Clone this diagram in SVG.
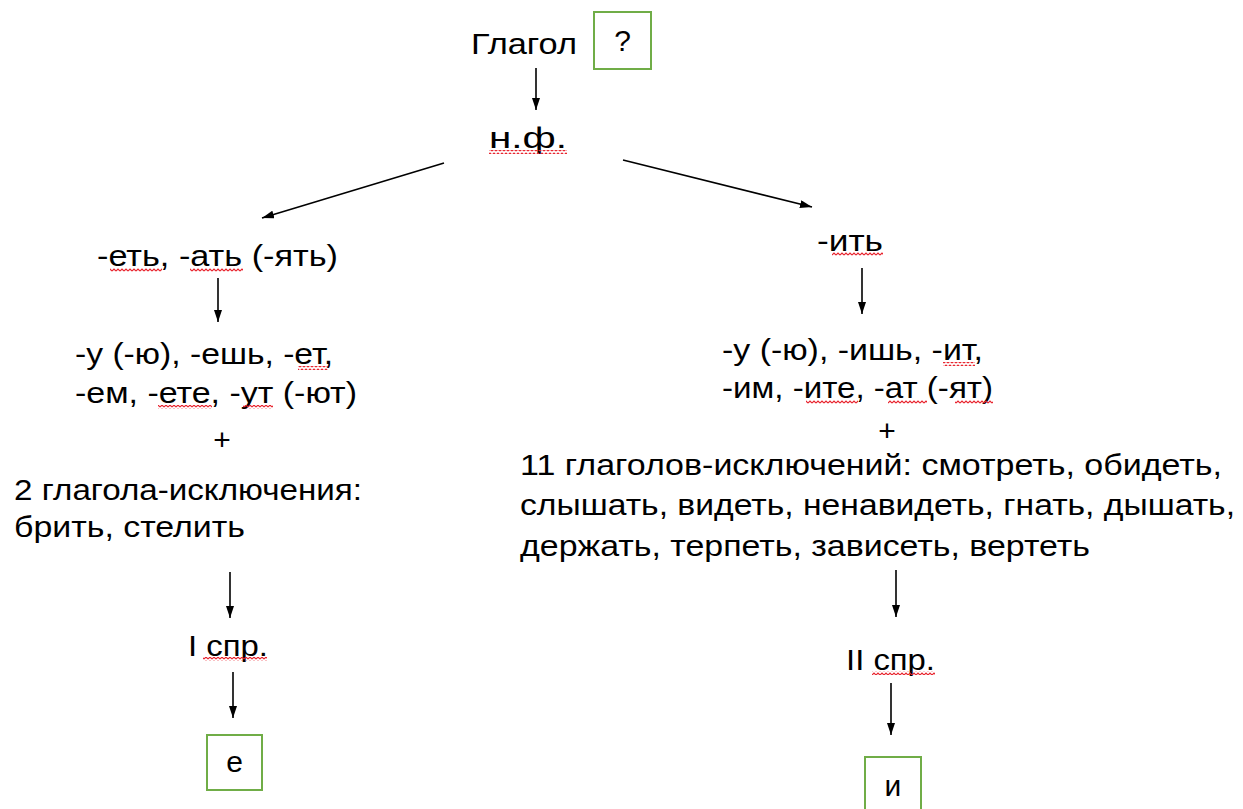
<svg xmlns="http://www.w3.org/2000/svg" width="1243" height="809" viewBox="0 0 1243 809">
<defs>
<marker id="ah" viewBox="0 0 12 8" refX="12" refY="4" markerWidth="12" markerHeight="8" markerUnits="userSpaceOnUse" orient="auto">
<path d="M0 0 L12 4 L0 8 Z" fill="#000"/>
</marker>
<pattern id="sq" width="4" height="4" patternUnits="userSpaceOnUse">
<path d="M0 3 L2 1 L4 3" stroke="#e8202a" stroke-width="1.1" fill="none"/>
</pattern>
<style>
text{font-family:"Liberation Sans",Arial,sans-serif;font-size:30px;fill:#000}
.c{stroke:#000;stroke-width:1.6;fill:none;marker-end:url(#ah)}
.box{fill:#fff;stroke:#70ad47;stroke-width:2}
.sq{fill:url(#sq)}
</style>
</defs>
<rect width="1243" height="809" fill="#fff"/>
<g id="connectors">
<line class="c" x1="536" y1="68" x2="536" y2="110"/>
<line class="c" x1="444" y1="163" x2="262" y2="218"/>
<line class="c" x1="623" y1="160" x2="812" y2="207"/>
<line class="c" x1="218" y1="278" x2="218" y2="322"/>
<line class="c" x1="230" y1="572" x2="230" y2="618"/>
<line class="c" x1="233" y1="672" x2="233" y2="718"/>
<line class="c" x1="862" y1="268" x2="862" y2="314"/>
<line class="c" x1="896" y1="570" x2="896" y2="617"/>
<line class="c" x1="891" y1="683" x2="891" y2="735"/>
</g>
<g id="node-glagol">
<text x="471" y="54" textLength="106" lengthAdjust="spacingAndGlyphs">Глагол</text>
</g>
<g id="node-q">
<rect class="box" x="594" y="12" width="57" height="57"/>
<text x="622.5" y="51" text-anchor="middle">?</text>
</g>
<g id="node-nf">
<text x="489" y="148" textLength="78" lengthAdjust="spacingAndGlyphs">н.ф.</text>
<rect class="sq" x="489" y="150" width="78" height="4"/>
</g>
<g id="node-left-inf">
<text x="97" y="266" textLength="241" lengthAdjust="spacingAndGlyphs">-еть, -ать (-ять)</text>
<rect class="sq" x="110" y="268" width="52" height="4"/>
<rect class="sq" x="190" y="268" width="53" height="4"/>
</g>
<g id="node-left-end">
<text x="75" y="364" textLength="258" lengthAdjust="spacingAndGlyphs">-у (-ю), -ешь, -ет,</text>
<text x="75" y="403" textLength="282" lengthAdjust="spacingAndGlyphs">-ем, -ете, -ут (-ют)</text>
<text x="222" y="450" text-anchor="middle">+</text>
<rect class="sq" x="298" y="366" width="30" height="4"/>
<rect class="sq" x="158" y="405" width="54" height="4"/>
<rect class="sq" x="243" y="405" width="30" height="4"/>
</g>
<g id="node-left-exc">
<text x="14" y="500" textLength="348" lengthAdjust="spacingAndGlyphs">2 глагола-исключения:</text>
<text x="14" y="537" textLength="231" lengthAdjust="spacingAndGlyphs">брить, стелить</text>
</g>
<g id="node-I">
<text x="188" y="656" textLength="80" lengthAdjust="spacingAndGlyphs">I спр.</text>
<rect class="sq" x="203" y="657" width="64" height="4"/>
</g>
<g id="node-e">
<rect class="box" x="207" y="735" width="55" height="55"/>
<text x="234.5" y="772" text-anchor="middle">е</text>
</g>
<g id="node-right-inf">
<text x="817" y="251" textLength="66" lengthAdjust="spacingAndGlyphs">-ить</text>
<rect class="sq" x="832" y="252" width="51" height="4"/>
</g>
<g id="node-right-end">
<text x="722" y="360" textLength="261" lengthAdjust="spacingAndGlyphs">-у (-ю), -ишь, -ит,</text>
<text x="722" y="398" textLength="271" lengthAdjust="spacingAndGlyphs">-им, -ите, -ат (-ят)</text>
<text x="887" y="441" text-anchor="middle">+</text>
<rect class="sq" x="943" y="362" width="32" height="4"/>
<rect class="sq" x="806" y="400" width="52" height="4"/>
<rect class="sq" x="888" y="400" width="39" height="4"/>
<rect class="sq" x="955" y="400" width="38" height="4"/>
</g>
<g id="node-right-exc">
<text x="520" y="475" textLength="702" lengthAdjust="spacingAndGlyphs">11 глаголов-исключений: смотреть, обидеть,</text>
<text x="520" y="515" textLength="715" lengthAdjust="spacingAndGlyphs">слышать, видеть, ненавидеть, гнать, дышать,</text>
<text x="520" y="556" textLength="570" lengthAdjust="spacingAndGlyphs">держать, терпеть, зависеть, вертеть</text>
</g>
<g id="node-II">
<text x="846" y="670" textLength="89" lengthAdjust="spacingAndGlyphs">II спр.</text>
<rect class="sq" x="872" y="671" width="63" height="4"/>
</g>
<g id="node-i">
<rect class="box" x="865" y="757" width="56" height="60"/>
<text x="893" y="796" text-anchor="middle">и</text>
</g>
</svg>
